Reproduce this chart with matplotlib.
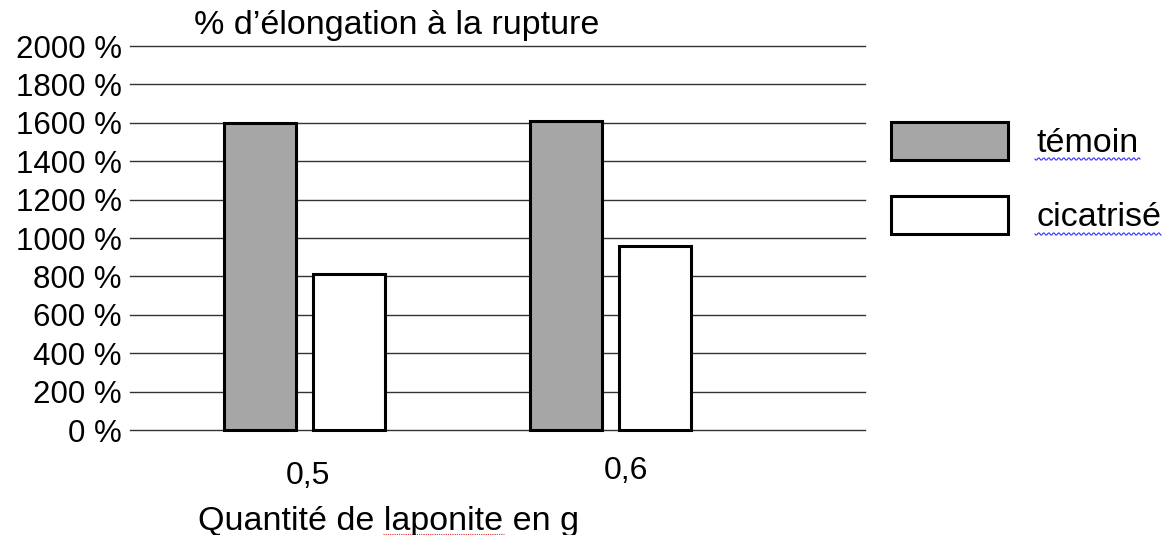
import numpy as np
import matplotlib
matplotlib.use("Agg")
import matplotlib.pyplot as plt

plt.rcParams['font.family'] = ['Liberation Sans', 'DejaVu Sans']

# donnees
categories = ["0,5", "0,6"]
temoin = [1600, 1610]
cicatrise = [815, 960]
yticks = list(range(0, 2001, 200))
ytick_labels = [f"{v} %" for v in yticks]

W, H = 1175, 535
fig = plt.figure(figsize=(W / 100, H / 100), dpi=100)
ax = fig.add_axes([130 / W, 105 / H, 735 / W, 384 / H])

x = np.arange(len(categories))
width = 0.235
off = 0.145
ax.bar(x - off, temoin, width, color='#a6a6a6', edgecolor='black',
       linewidth=2.2, zorder=3, clip_on=False, label='témoin')
ax.bar(x + off, cicatrise, width, color='white', edgecolor='black',
       linewidth=2.2, zorder=3, clip_on=False, label='cicatrisé')

ax.set_xlim(-0.570, 1.832)
ax.set_ylim(0, 2000)
ax.set_yticks(yticks, ytick_labels, fontsize=22.5)
ax.set_xticks([])
ax.yaxis.grid(True, color='#333333', linewidth=1.0)
for gl in ax.get_ygridlines():
    gl.set_clip_on(False)
ax.set_axisbelow(True)
ax.tick_params(axis='y', length=0, pad=6)
for s in ax.spines.values():
    s.set_visible(False)

# etiquettes des categories (legerement decalees comme sur l'original)
ax.text(0.011, -0.12, categories[0], transform=ax.get_xaxis_transform(),
        ha='center', va='center', fontsize=23)
ax.text(1.05, -0.107, categories[1], transform=ax.get_xaxis_transform(),
        ha='center', va='center', fontsize=23)

fig.text(397 / W, 1 - 34 / H, "% d’élongation à la rupture", ha='center',
         va='baseline', fontsize=24.5)
fig.text(389 / W, 1 - 530 / H, "Quantité de laponite en g", ha='center',
         va='baseline', fontsize=24.5)

ax.legend(loc='upper left', bbox_to_anchor=(891 / W, 1 - 122 / H),
          bbox_transform=fig.transFigure, frameon=False, fontsize=24.5,
          handlelength=3.44, handleheight=1.32, labelspacing=1.08,
          handletextpad=0.85, borderpad=0, borderaxespad=0)

# soulignements du correcteur orthographique
def wavy(x0, x1, y, color):
    xs = np.arange(x0, x1, 1.0)
    ys = y + 1.2 * np.sin(xs * np.pi / 2.5)
    fig.add_artist(plt.Line2D(xs / W, 1 - ys / H, color=color, lw=0.8))

wavy(1035, 1141, 159, '#3333ff')
wavy(1035, 1162, 234, '#3333ff')
fig.add_artist(plt.Line2D([383 / W, 504 / W], [1 - 534 / H] * 2, color='#e03030',
                          lw=0.8, linestyle=(0, (1, 1))))

fig.savefig("out.png", dpi=100)
